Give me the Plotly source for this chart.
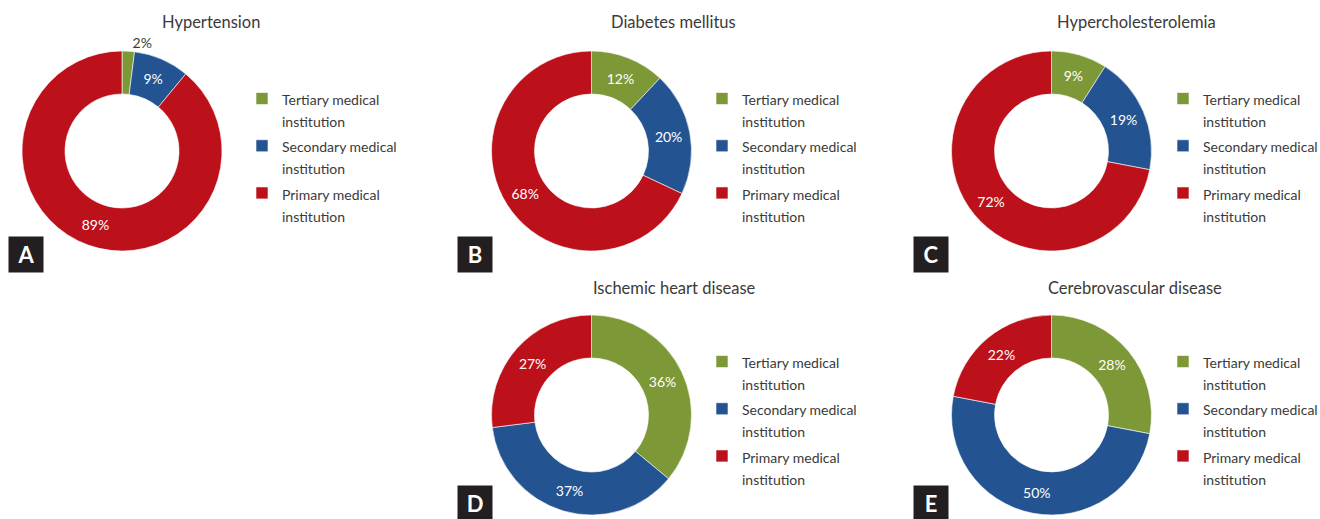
import plotly.graph_objects as go

# ---------------- data ----------------
titles = ["Hypertension", "Diabetes mellitus", "Hypercholesterolemia",
          "Ischemic heart disease", "Cerebrovascular disease"]
letters = ["A", "B", "C", "D", "E"]
categories = [["Tertiary medical", "institution"],
              ["Secondary medical", "institution"],
              ["Primary medical", "institution"]]
tertiary = [2, 12, 9, 36, 28]
secondary = [9, 20, 19, 37, 50]
primary = [89, 68, 72, 27, 22]

colors = ["#7d9836", "#245391", "#bc111b"]

# ---------------- layout helpers (window pixels) ----------------
# The figure is drawn a little wider than the window so that the right-hand
# legends are only cut by the window edge, as in the reference.
W, H = 1340, 519
R = 100
centers = [(122, 151), (591.5, 151), (1051.5, 151), (591.5, 415), (1051.5, 415)]
legend_text_x = [282, 742, 1203, 742, 1203]
legend_top_y = [81, 81, 81, 344, 344]
title_pos = [(211, 22), (673, 22), (1136, 22), (674, 288), (1135, 288)]
letter_pos = [(26, 254.5), (475, 254), (931, 254), (475, 503), (931, 503)]

FONT = "Lato"
TXT = "#3a3a3a"


def px(x):
    return x / W


def py(y):
    return 1 - y / H


def legend_label(lines):
    return "<br>".join(f"<span style='font-size:14px'>{ln}</span>" for ln in lines)


labels = [legend_label(c) for c in categories]

fig = go.Figure()
for i in range(5):
    cx, cy = centers[i]
    vals = [tertiary[i], secondary[i], primary[i]]
    legname = "legend" if i == 0 else f"legend{i+1}"
    tpos = ["outside", "inside", "inside"] if i == 0 else "inside"
    fig.add_trace(go.Pie(
        labels=labels, values=vals, sort=False, direction="clockwise",
        rotation=0, hole=0.57,
        marker=dict(colors=colors, line=dict(color="white", width=0.6)),
        texttemplate="%{value}%", textposition=tpos,
        insidetextorientation="horizontal",
        insidetextfont=dict(color="white", size=14, family=FONT),
        outsidetextfont=dict(color=TXT, size=14, family=FONT),
        hoverinfo="skip",
        domain=dict(x=[px(cx - R), px(cx + R)],
                    y=[py(cy + R), py(cy - R)]),
        legend=legname, legendgroup=f"g{i}", showlegend=True,
    ))
    leg = dict(x=px(legend_text_x[i] - 40), y=py(legend_top_y[i]),
               xanchor="left", yanchor="top", valign="top",
               font=dict(family=FONT, size=17, color=TXT),
               bgcolor="rgba(0,0,0,0)", traceorder="normal",
               itemclick=False, itemdoubleclick=False)
    fig.update_layout(**{legname: leg})

annotations = []
for i in range(5):
    tx, ty = title_pos[i]
    annotations.append(dict(x=px(tx), y=py(ty), xref="paper", yref="paper",
                            text=titles[i], showarrow=False,
                            font=dict(family=FONT, size=16.5, color=TXT),
                            xanchor="center", yanchor="middle"))
    lx, ly = letter_pos[i]
    annotations.append(dict(x=px(lx), y=py(ly), xref="paper", yref="paper",
                            text="<b>" + letters[i] + "</b>", showarrow=False,
                            font=dict(family=FONT, size=22, color="white"),
                            bgcolor="#231f20", width=30, height=31, borderpad=2,
                            xanchor="center", yanchor="middle"))

fig.update_layout(width=W, height=H,
                  margin=dict(l=0, r=0, t=0, b=0, autoexpand=False),
                  paper_bgcolor="white", plot_bgcolor="white",
                  annotations=annotations, font=dict(family=FONT, color=TXT))

fig.write_html("out.html", config={"displayModeBar": False, "responsive": False},
               post_script="document.body.style.margin='0px';document.body.style.padding='0px';")
